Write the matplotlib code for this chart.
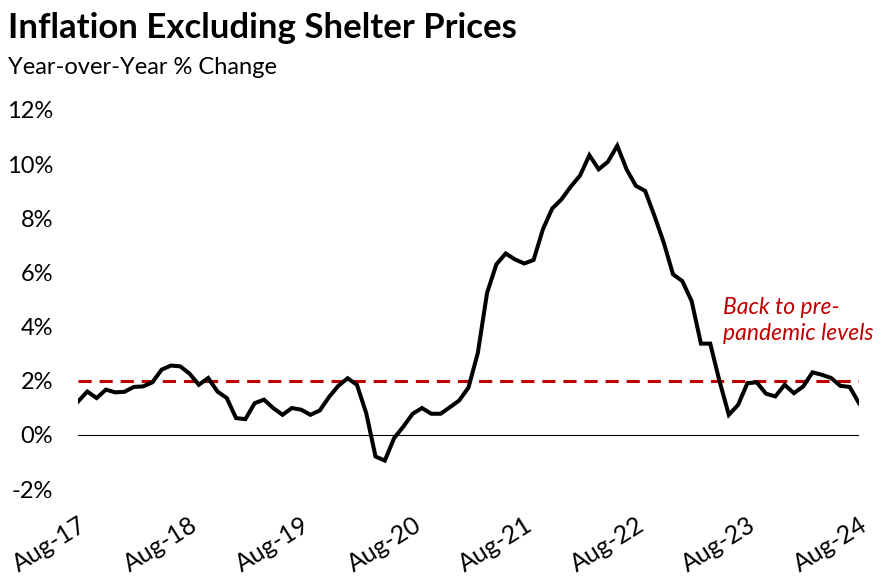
import numpy as np
import pandas as pd
import matplotlib
matplotlib.use('Agg')
import matplotlib.pyplot as plt

# monthly YoY % change, Aug-17 .. Aug-24
values = [1.23, 1.60, 1.36, 1.67, 1.57, 1.59, 1.77, 1.79, 1.94, 2.41,
          2.56, 2.53, 2.26, 1.85, 2.10, 1.60, 1.36, 0.62, 0.58, 1.17,
          1.30, 0.99, 0.74, 0.99, 0.93, 0.74, 0.90, 1.40, 1.81, 2.09,
          1.85, 0.80, -0.80, -0.95, -0.12, 0.31, 0.78, 0.99, 0.78, 0.78,
          1.02, 1.27, 1.75, 3.02, 5.25, 6.30, 6.70, 6.48, 6.33, 6.46,
          7.59, 8.36, 8.70, 9.17, 9.58, 10.33, 9.81, 10.09, 10.68, 9.81,
          9.20, 9.01, 8.09, 7.10, 5.93, 5.68, 4.94, 3.37, 3.37, 1.98,
          0.74, 1.11, 1.91, 1.94, 1.52, 1.42, 1.85, 1.54, 1.79, 2.31,
          2.22, 2.10, 1.81, 1.77, 1.17]
dates = pd.date_range('2017-08-01', periods=len(values), freq='MS')
tick_labels = ['Aug-17', 'Aug-18', 'Aug-19', 'Aug-20', 'Aug-21', 'Aug-22', 'Aug-23', 'Aug-24']
y_ticks = [-2, 0, 2, 4, 6, 8, 10, 12]
target = 2.0

plt.rcParams['font.family'] = ['Lato', 'DejaVu Sans']

fig = plt.figure(figsize=(8.91, 5.8), dpi=100)
ax = fig.add_axes([78/891, 1 - 489/580, (859 - 78)/891, (489 - 110)/580])

x = np.arange(len(values))
ax.plot(x, values, color='black', lw=2.9, solid_joinstyle='miter', zorder=3)
ax.axhline(target, color='#C00000', lw=2.2, dashes=(4.3, 2.6), zorder=2)
ax.axhline(0, color='black', lw=0.8, zorder=1)

ax.set_xlim(0, len(values) - 1)
ax.set_ylim(-2, 12)
ax.set_yticks(y_ticks)
ax.set_yticklabels([f'{t}%' for t in y_ticks])

tick_pos = [i for i, d in enumerate(dates) if d.month == 8]
ax.set_xticks(tick_pos)
ax.set_xticklabels(tick_labels, rotation=32, ha='right', va='top', rotation_mode='anchor')

ax.tick_params(axis='y', length=0, pad=18, labelsize=17)
ax.tick_params(axis='x', length=0, pad=17, labelsize=18)
for s in ax.spines.values():
    s.set_visible(False)

ax.text(69.4, 4.22, 'Back to pre-\npandemic levels', color='#C00000',
        fontsize=16.5, style='italic', ha='left', va='center', linespacing=1.3)

fig.text(8/891, 1 - 28/580, 'Inflation Excluding Shelter Prices', fontsize=25,
         fontweight='bold', ha='left', va='center')
fig.text(8/891, 1 - 67/580, 'Year-over-Year % Change', fontsize=17,
         ha='left', va='center')

fig.savefig('out.png', dpi=100)
